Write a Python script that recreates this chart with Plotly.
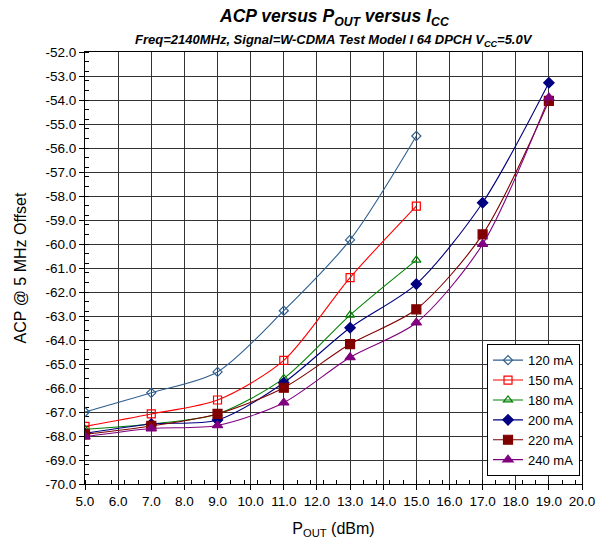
import plotly.graph_objects as go

pout_short = [5, 7, 9, 11, 13, 15]
pout_long = [5, 7, 9, 11, 13, 15, 17, 19]

acp_120 = [-67.0, -66.2, -65.33, -62.78, -59.83, -55.5]
acp_150 = [-67.6, -67.08, -66.5, -64.85, -61.4, -58.42]
acp_180 = [-67.72, -67.5, -67.08, -65.6, -62.96, -60.67]
acp_200 = [-67.89, -67.5, -67.33, -65.78, -63.49, -61.67, -58.28, -53.28]
acp_220 = [-67.93, -67.58, -67.08, -65.99, -64.17, -62.72, -59.6, -54.04]
acp_240 = [-68.03, -67.69, -67.56, -66.61, -64.72, -63.28, -60.01, -53.9]

x_tickvals = [5, 6, 7, 8, 9, 10, 11, 12, 13, 14, 15, 16, 17, 18, 19, 20]
x_ticktext = ["5.0", "6.0", "7.0", "8.0", "9.0", "10.0", "11.0", "12.0", "13.0",
              "14.0", "15.0", "16.0", "17.0", "18.0", "19.0", "20.0"]
y_tickvals = [-52 - i for i in range(19)]
y_ticktext = ["-%.1f" % (52 + i) for i in range(19)]

series = [
    ("120 mA", pout_short, acp_120, "#2F5F8F", "diamond-open", 7),
    ("150 mA", pout_short, acp_150, "#FF0000", "square-open", 8),
    ("180 mA", pout_short, acp_180, "#008000", "triangle-up-open", 8),
    ("200 mA", pout_long, acp_200, "#000080", "diamond", 8),
    ("220 mA", pout_long, acp_220, "#800000", "square", 9),
    ("240 mA", pout_long, acp_240, "#800080", "triangle-up", 9),
]

fig = go.Figure()
for name, xs, ys, col, sym, sz in series:
    fig.add_trace(go.Scatter(
        x=xs, y=ys, name=name, mode="lines+markers",
        line=dict(color=col, width=1.1, shape="spline", smoothing=0.8),
        marker=dict(symbol=sym, size=sz, color=col, line=dict(color=col, width=1.2)),
    ))

font_family = "Liberation Sans, Arial, sans-serif"

fig.update_layout(
    width=598, height=546,
    margin=dict(l=85, r=16, t=52, b=62, autoexpand=False),
    paper_bgcolor="white", plot_bgcolor="white",
    font=dict(family=font_family, size=13, color="black"),
    showlegend=True,
    legend=dict(
        x=0.996, y=0.018, xanchor="right", yanchor="bottom",
        bgcolor="white", bordercolor="black", borderwidth=1,
        font=dict(size=13, color="black"),
        tracegroupgap=0, itemwidth=30,
    ),
    annotations=[
        dict(text="<b><i>ACP versus P<sub>OUT</sub> versus I<sub>CC</sub></i></b>",
             x=0.5, y=1.0, xref="paper", yref="paper", xanchor="center", yanchor="bottom",
             yshift=21, showarrow=False, font=dict(size=17.5, color="black")),
        dict(text="<b><i>Freq=2140MHz, Signal=W-CDMA Test Model I 64 DPCH V<sub>CC</sub>=5.0V</i></b>",
             x=0.5, y=1.0, xref="paper", yref="paper", xanchor="center", yanchor="bottom",
             yshift=1, showarrow=False, font=dict(size=13, color="black")),
    ],
)

fig.update_xaxes(
    range=[5, 20], tickvals=x_tickvals, ticktext=x_ticktext,
    showgrid=True, gridcolor="#333333", gridwidth=1,
    showline=True, linecolor="black", linewidth=1, mirror=True,
    ticks="outside", ticklen=5, tickcolor="black",
    minor=dict(dtick=0.4, tick0=5, ticks="inside", ticklen=4, tickcolor="black"),
    tickfont=dict(size=13.5),
    title=dict(text="P<sub>OUT</sub> (dBm)", font=dict(size=16), standoff=14),
    zeroline=False, automargin=False, layer="below traces",
)
fig.update_yaxes(
    range=[-70, -52], tickvals=y_tickvals, ticktext=y_ticktext,
    showgrid=True, gridcolor="#333333", gridwidth=1,
    showline=True, linecolor="black", linewidth=1, mirror=True,
    ticks="outside", ticklen=5, tickcolor="black",
    minor=dict(dtick=0.4, tick0=-70, ticks="inside", ticklen=4, tickcolor="black"),
    tickfont=dict(size=13.5),
    title=dict(text="ACP @ 5 MHz Offset", font=dict(size=16), standoff=14),
    zeroline=False, automargin=False, layer="below traces",
)

fig.write_html("out.html", config={"displayModeBar": False},
               post_script="document.body.style.margin='0';document.body.style.padding='0';")
